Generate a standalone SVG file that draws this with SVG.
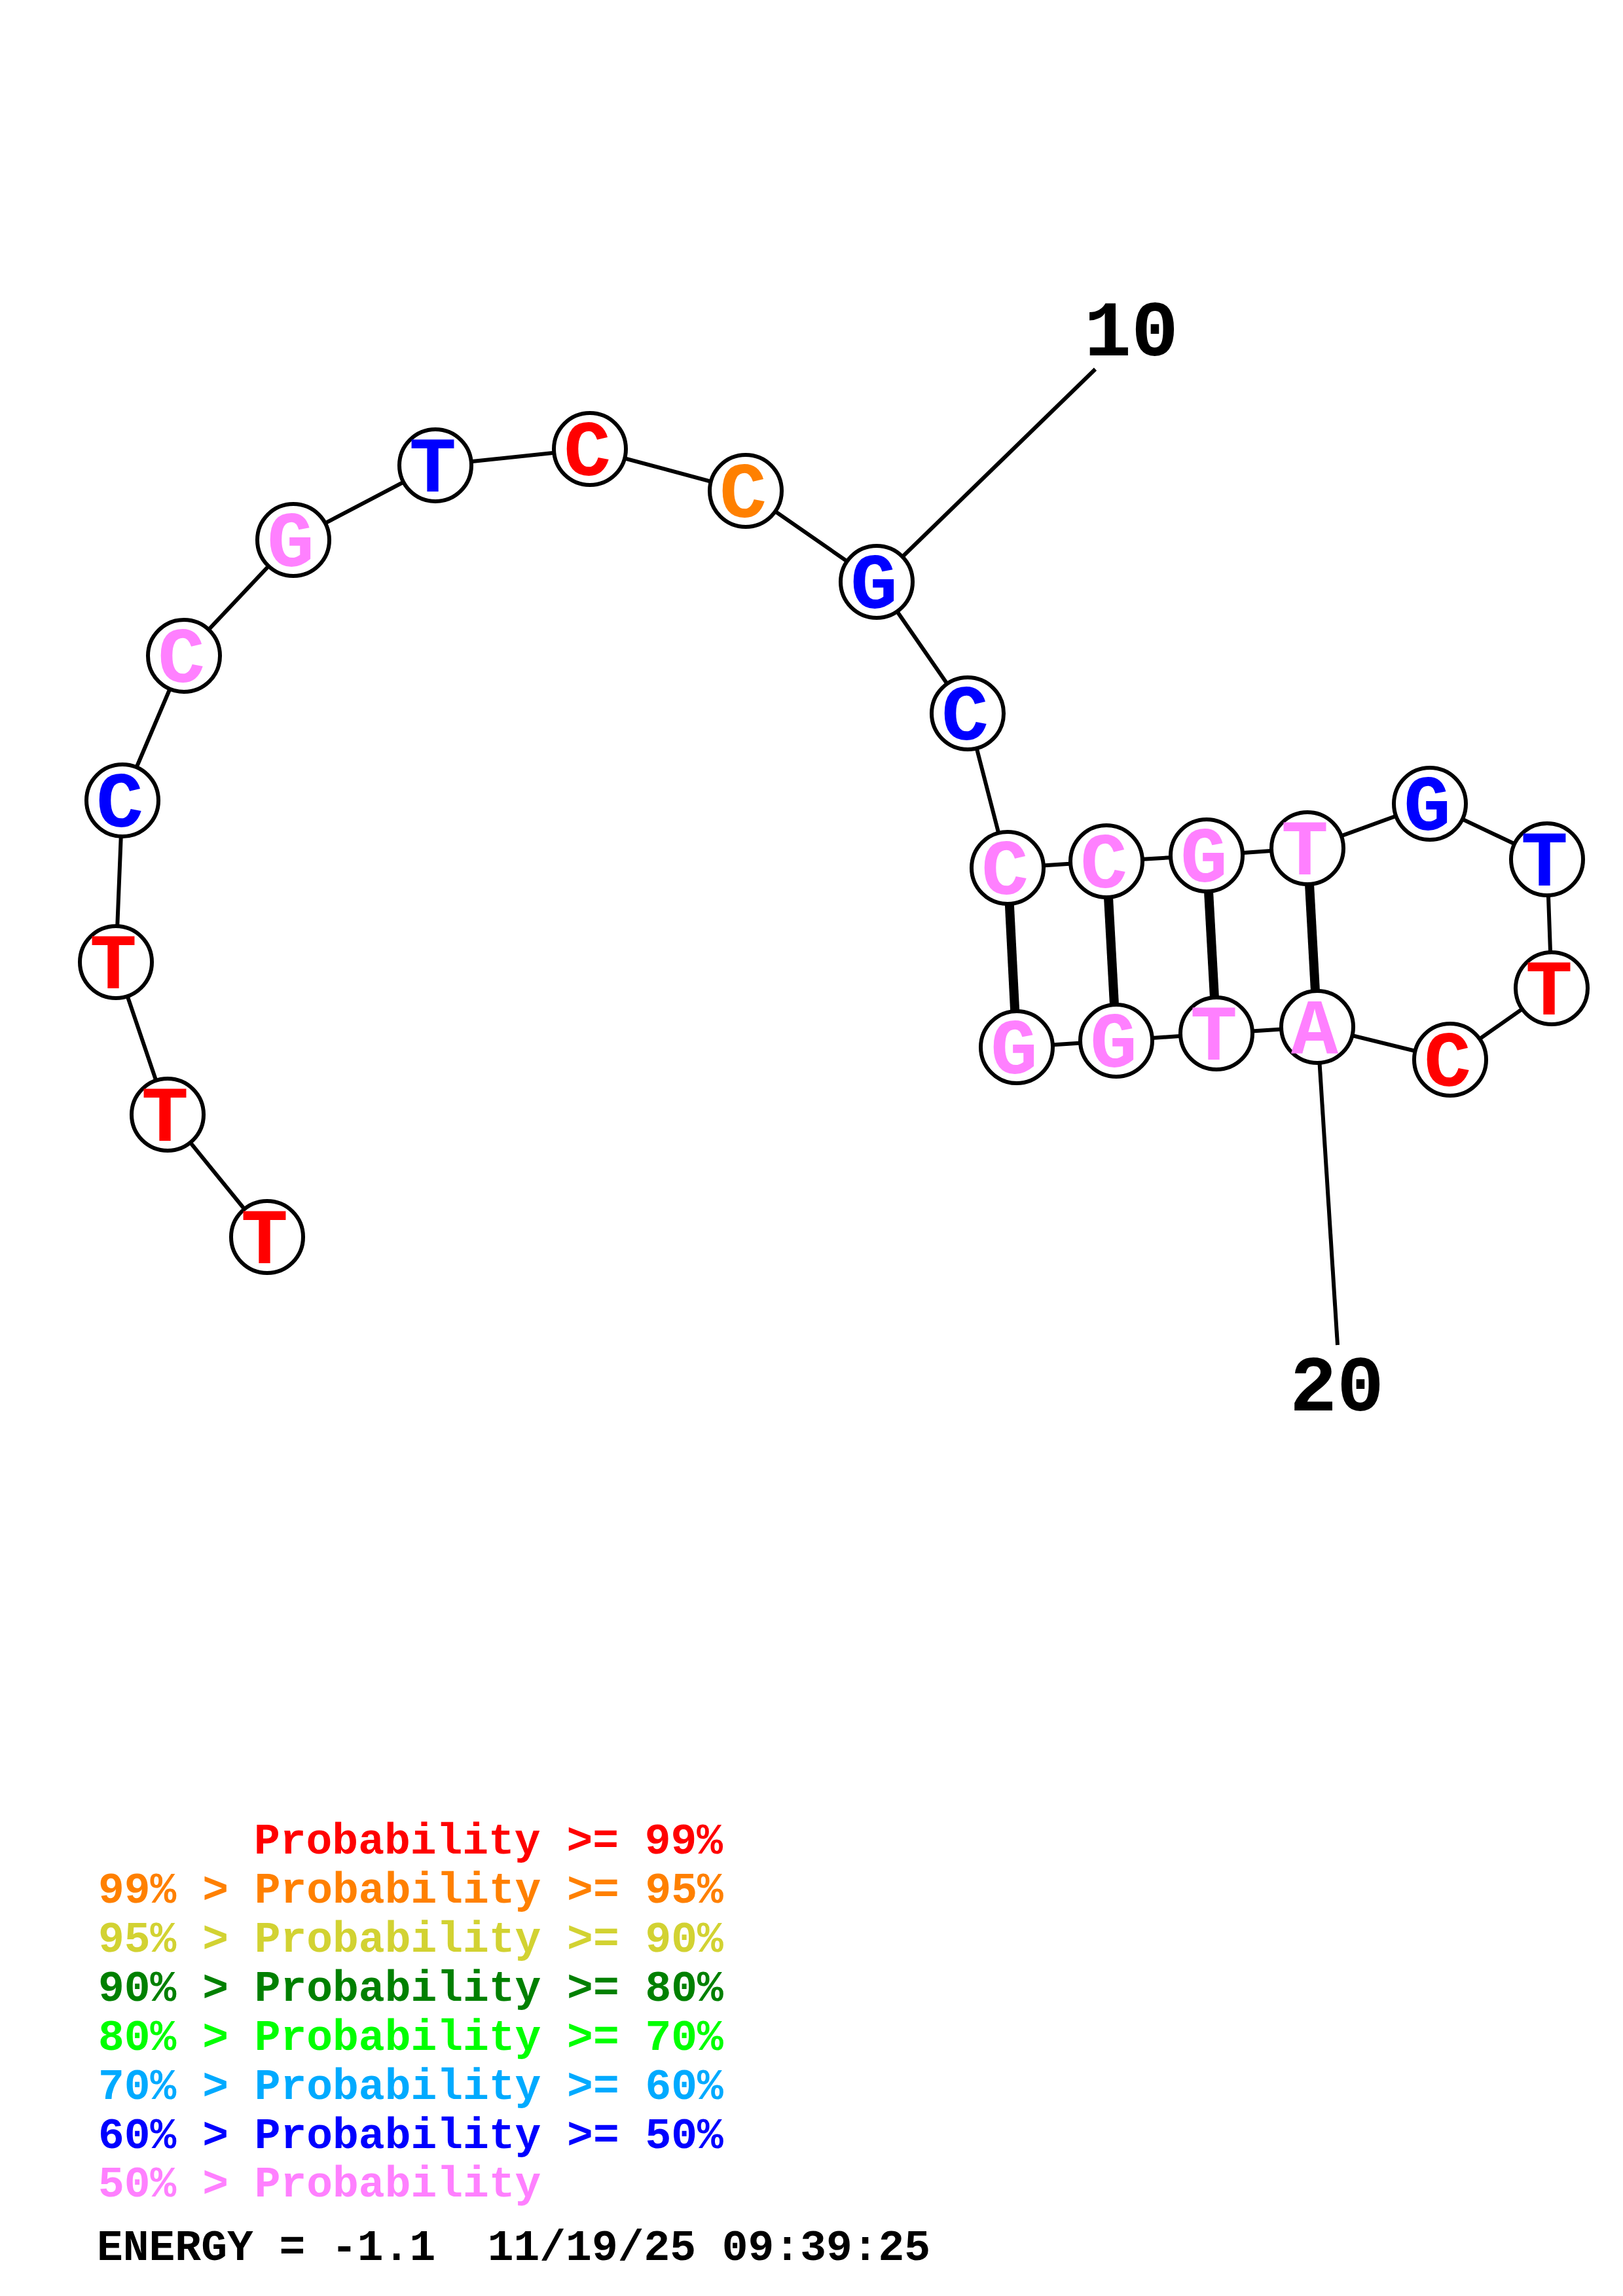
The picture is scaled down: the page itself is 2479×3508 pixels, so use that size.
<svg xmlns="http://www.w3.org/2000/svg" width="2479" height="3508" viewBox="0 0 2479 3508">
<style>
.bb{stroke:#000;stroke-width:6;fill:none}
.pr{stroke:#000;stroke-width:14;fill:none}
.nc{fill:#fff;stroke:#000;stroke-width:6}
.nt{font-family:"Courier New","Nimbus Mono PS","FreeMono","Liberation Mono",monospace;font-weight:bold;font-size:120px;text-anchor:middle}
.lg{font-family:"Courier New","Nimbus Mono PS","FreeMono","Liberation Mono",monospace;font-weight:bold;font-size:66.3px}
.r{fill:#FF0000}.o{fill:#FF8000}.y{fill:#D2D232}.dg{fill:#008000}.g{fill:#00FF00}.sb{fill:#00AAFF}.b{fill:#0000FF}.p{fill:#FF80FF}.k{fill:#000}
</style>
<rect width="2479" height="3508" fill="#fff"/>
<g id="connectors">
<polyline class="bb" points="408,1890 256,1703 177,1470 187,1223 281,1002 448,825 665,711 901,686 1139,750 1339,889 1478,1090 1539,1326 1690,1316 1843,1307 1997,1296 2184,1228 2363,1313 2370,1510 2215,1619 2012,1569 1858,1579 1705,1590 1553,1600"/>
<line class="pr" x1="1539" y1="1326" x2="1553" y2="1600"/>
<line class="pr" x1="1690" y1="1316" x2="1705" y2="1590"/>
<line class="pr" x1="1843" y1="1307" x2="1858" y2="1579"/>
<line class="pr" x1="1997" y1="1296" x2="2012" y2="1569"/>
<line class="bb" x1="1339" y1="889" x2="1673" y2="564"/>
<line class="bb" x1="2012" y1="1569" x2="2043" y2="2055"/>
</g>
<g id="n1"><circle class="nc" cx="408" cy="1890" r="55"/><text class="nt r" x="404" y="1930">T</text></g>
<g id="n2"><circle class="nc" cx="256" cy="1703" r="55"/><text class="nt r" x="252" y="1743">T</text></g>
<g id="n3"><circle class="nc" cx="177" cy="1470" r="55"/><text class="nt r" x="173" y="1510">T</text></g>
<g id="n4"><circle class="nc" cx="187" cy="1223" r="55"/><text class="nt b" x="183" y="1263">C</text></g>
<g id="n5"><circle class="nc" cx="281" cy="1002" r="55"/><text class="nt p" x="277" y="1042">C</text></g>
<g id="n6"><circle class="nc" cx="448" cy="825" r="55"/><text class="nt p" x="444" y="865">G</text></g>
<g id="n7"><circle class="nc" cx="665" cy="711" r="55"/><text class="nt b" x="661" y="751">T</text></g>
<g id="n8"><circle class="nc" cx="901" cy="686" r="55"/><text class="nt r" x="897" y="726">C</text></g>
<g id="n9"><circle class="nc" cx="1139" cy="750" r="55"/><text class="nt o" x="1135" y="790">C</text></g>
<g id="n10"><circle class="nc" cx="1339" cy="889" r="55"/><text class="nt b" x="1335" y="929">G</text></g>
<g id="n11"><circle class="nc" cx="1478" cy="1090" r="55"/><text class="nt b" x="1474" y="1130">C</text></g>
<g id="n12"><circle class="nc" cx="1539" cy="1326" r="55"/><text class="nt p" x="1535" y="1366">C</text></g>
<g id="n13"><circle class="nc" cx="1690" cy="1316" r="55"/><text class="nt p" x="1686" y="1356">C</text></g>
<g id="n14"><circle class="nc" cx="1843" cy="1307" r="55"/><text class="nt p" x="1839" y="1347">G</text></g>
<g id="n15"><circle class="nc" cx="1997" cy="1296" r="55"/><text class="nt p" x="1993" y="1336">T</text></g>
<g id="n16"><circle class="nc" cx="2184" cy="1228" r="55"/><text class="nt b" x="2180" y="1268">G</text></g>
<g id="n17"><circle class="nc" cx="2363" cy="1313" r="55"/><text class="nt b" x="2359" y="1353">T</text></g>
<g id="n18"><circle class="nc" cx="2370" cy="1510" r="55"/><text class="nt r" x="2366" y="1550">T</text></g>
<g id="n19"><circle class="nc" cx="2215" cy="1619" r="55"/><text class="nt r" x="2211" y="1659">C</text></g>
<g id="n20"><circle class="nc" cx="2012" cy="1569" r="55"/><text class="nt p" x="2008" y="1609">A</text></g>
<g id="n21"><circle class="nc" cx="1858" cy="1579" r="55"/><text class="nt p" x="1854" y="1619">T</text></g>
<g id="n22"><circle class="nc" cx="1705" cy="1590" r="55"/><text class="nt p" x="1701" y="1630">G</text></g>
<g id="n23"><circle class="nc" cx="1553" cy="1600" r="55"/><text class="nt p" x="1549" y="1640">G</text></g>
<g id="labels">
<text class="nt k" x="1728" y="543">10</text>
<text class="nt k" x="2042" y="2155">20</text>
</g>
<g id="legend">
<text class="lg r" x="388" y="2832">Probability &gt;= 99%</text>
<text class="lg o" x="150" y="2907">99% &gt; Probability &gt;= 95%</text>
<text class="lg y" x="150" y="2982">95% &gt; Probability &gt;= 90%</text>
<text class="lg dg" x="150" y="3057">90% &gt; Probability &gt;= 80%</text>
<text class="lg g" x="150" y="3132">80% &gt; Probability &gt;= 70%</text>
<text class="lg sb" x="150" y="3207">70% &gt; Probability &gt;= 60%</text>
<text class="lg b" x="150" y="3282">60% &gt; Probability &gt;= 50%</text>
<text class="lg p" x="150" y="3356">50% &gt; Probability</text>
<text class="lg k" x="148" y="3453" xml:space="preserve">ENERGY = -1.1  11/19/25 09:39:25</text>
</g>
</svg>
